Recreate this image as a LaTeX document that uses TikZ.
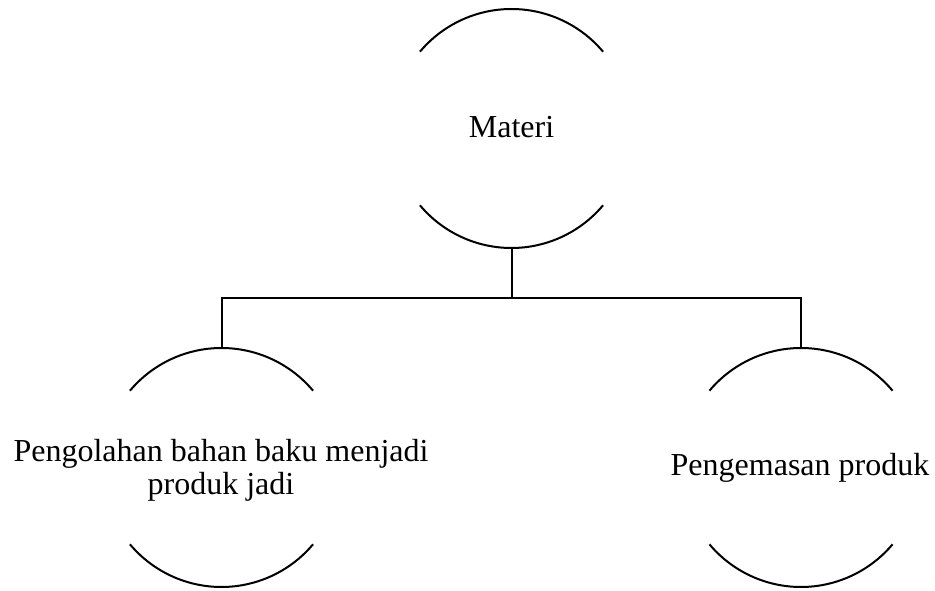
\documentclass[tikz,border=0pt]{standalone}
\usepackage{fontspec}
\setmainfont{Liberation Serif}
\begin{document}
\begin{tikzpicture}[x=1pt,y=1pt,
  arcline/.style={line width=2pt},
  conn/.style={line width=2pt},
  lbl/.style={font=\fontsize{32}{33}\selectfont, align=center, inner sep=0pt}]
\useasboundingbox (0,0) rectangle (935,590);
\def\R{119.5}
% centres
\coordinate (m) at (511.5,461.5);
\coordinate (l) at (221.5,122.5);
\coordinate (r) at (801,122.5);
% half-circle arcs
\foreach \c in {m,l,r}{
  \draw[arcline] ([shift={(40:\R)}]\c) arc[start angle=40,end angle=140,radius=\R];
  \draw[arcline] ([shift={(220:\R)}]\c) arc[start angle=220,end angle=320,radius=\R];
}
% labels
\node[lbl, anchor=base] (tm) at (511.5,452) {Materi};
\node[lbl] (tl) at (221,120) {Pengolahan bahan baku menjadi\\produk jadi};
\node[lbl, anchor=base] (tr) at (800,115) {Pengemasan produk};
% connectors
\coordinate (mb) at ([shift={(270:\R)}]m);
\coordinate (lt) at ([shift={(90:\R)}]l);
\coordinate (rt) at ([shift={(90:\R)}]r);
\coordinate (j) at (511.5,292);
\draw[conn] (mb) -- (j);
\draw[conn] (j) -| (lt);
\draw[conn] (j) -| (rt);
\end{tikzpicture}
\end{document}
